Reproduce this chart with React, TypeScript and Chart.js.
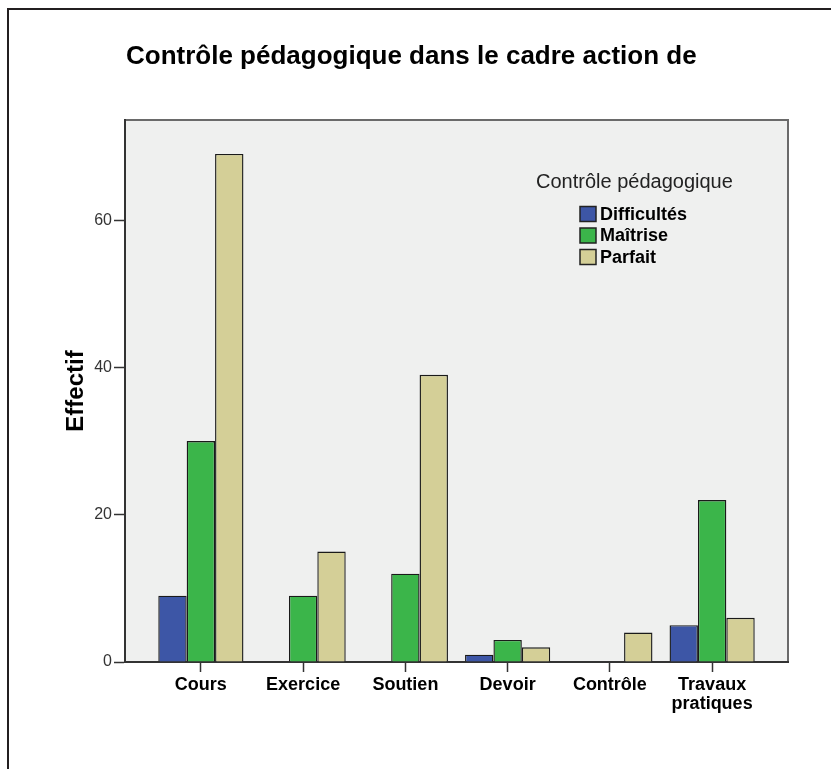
import React, { useEffect, useRef } from 'react';
import { Chart, registerables } from 'chart.js';

Chart.register(...registerables);

const FF = '"Liberation Sans", Arial, Helvetica, sans-serif';

const chartTitle = 'Contrôle pédagogique dans le cadre action de';
const yAxisTitle = 'Effectif';
const legendTitle = 'Contrôle pédagogique';

const categories: (string | string[])[] = ['Cours', 'Exercice', 'Soutien', 'Devoir', 'Contrôle', ['Travaux', 'pratiques']];
const seriesNames = ['Difficultés', 'Maîtrise', 'Parfait'];
const difficultes = [9, 0, 0, 1, 0, 5];
const maitrise = [30, 9, 12, 3, 0, 22];
const parfait = [69, 15, 39, 2, 4, 6];
const seriesValues = [difficultes, maitrise, parfait];
const yTicks = [0, 20, 40, 60];
const yMax = 73.6;
const seriesColors = ['#3d56a6', '#3bb54a', '#d4cf97'];

const decorPlugin = {
  id: 'decor',
  beforeDraw(chart: any) {
    const { ctx, chartArea: a } = chart;
    ctx.save();
    ctx.fillStyle = '#ffffff';
    ctx.fillRect(0, 0, chart.width, chart.height);
    ctx.fillStyle = '#eff0ef';
    ctx.fillRect(a.left, a.top, a.right - a.left, a.bottom - a.top);
    ctx.strokeStyle = '#6a6a6a';
    ctx.lineWidth = 2;
    ctx.beginPath();
    ctx.moveTo(a.left, a.top);
    ctx.lineTo(a.right, a.top);
    ctx.lineTo(a.right, a.bottom);
    ctx.stroke();
    // page frame
    ctx.strokeStyle = '#231f20';
    ctx.lineWidth = 2;
    ctx.beginPath();
    ctx.moveTo(chart.width, 9);
    ctx.lineTo(8, 9);
    ctx.lineTo(8, chart.height);
    ctx.stroke();
    // title
    ctx.fillStyle = '#000';
    ctx.font = `bold 26px ${FF}`;
    ctx.textAlign = 'left';
    ctx.textBaseline = 'middle';
    ctx.fillText(chartTitle, 126, 57);
    ctx.restore();
  },
  afterDraw(chart: any) {
    const { ctx } = chart;
    ctx.save();
    ctx.fillStyle = '#222';
    ctx.font = `20px ${FF}`;
    ctx.textAlign = 'left';
    ctx.textBaseline = 'alphabetic';
    ctx.fillText(legendTitle, 536, 188);
    chart.data.datasets.forEach((ds: any, i: number) => {
      const cy = 214 + i * 21.5;
      ctx.fillStyle = ds.backgroundColor;
      ctx.fillRect(580, cy - 7.5, 16, 15);
      ctx.strokeStyle = '#222';
      ctx.lineWidth = 1.5;
      ctx.strokeRect(580, cy - 7.5, 16, 15);
      ctx.fillStyle = '#000';
      ctx.font = `bold 18px ${FF}`;
      ctx.textBaseline = 'middle';
      ctx.fillText(ds.label, 600, cy + 1);
    });
    ctx.restore();
  },
};

export default function App() {
  const ref = useRef<HTMLCanvasElement | null>(null);
  useEffect(() => {
    document.body.style.margin = '0';
    const canvas = ref.current;
    if (!canvas) return;
    const chart = new Chart(canvas, {
      type: 'bar',
      data: {
        datasets: seriesNames.map((name, s) => ({
          label: name,
          data: seriesValues[s].map((v, i) => ({ x: i, y: v })),
          backgroundColor: seriesColors[s],
          borderColor: '#1a1a1a',
          borderWidth: 1.4,
          categoryPercentage: 0.833,
          barPercentage: 1,
        })),
      },
      options: {
        animation: false,
        responsive: false,
        devicePixelRatio: 1,
        layout: { padding: { top: 120, right: 43, left: 0, bottom: 0 } },
        plugins: {
          legend: { display: false },
          title: { display: false },
          tooltip: { enabled: false },
        },
        scales: {
          x: {
            type: 'linear',
            offset: false,
            min: -0.742,
            max: 5.742,
            afterBuildTicks: (scale: any) => {
              scale.ticks = categories.map((_, i) => ({ value: i }));
            },
            afterFit: (scale: any) => {
              scale.height = 107;
            },
            grid: {
              offset: false,
              drawOnChartArea: false,
              drawTicks: true,
              tickLength: 10,
              tickColor: '#333',
              tickWidth: 1.5,
            },
            border: { display: true, color: '#333', width: 2 },
            ticks: {
              autoSkip: false,
              maxRotation: 0,
              minRotation: 0,
              padding: 4,
              color: '#000',
              font: { family: FF, size: 18, weight: 'bold', lineHeight: 1.05 },
              callback: (_v: any, index: number) => categories[index],
            },
          },
          y: {
            type: 'linear',
            min: 0,
            max: yMax,
            afterBuildTicks: (scale: any) => {
              scale.ticks = yTicks.map((v) => ({ value: v }));
            },
            afterFit: (scale: any) => {
              scale.width = 125;
            },
            grid: {
              drawOnChartArea: false,
              drawTicks: true,
              tickLength: 11,
              tickColor: '#333',
              tickWidth: 1.5,
            },
            border: { display: true, color: '#333', width: 2 },
            ticks: {
              padding: 2,
              color: '#333',
              font: { family: FF, size: 16 },
            },
            title: {
              display: true,
              text: yAxisTitle,
              color: '#000',
              font: { family: FF, size: 24, weight: 'bold', lineHeight: 1.2 },
              padding: { top: 62, bottom: 0 },
            },
          },
        },
      },
      plugins: [decorPlugin],
    } as any);
    return () => chart.destroy();
  }, []);
  return (
    <div style={{ position: 'absolute', left: 0, top: 0, width: 831, height: 769 }}>
      <canvas ref={ref} width={831} height={769} style={{ display: 'block' }} />
    </div>
  );
}
